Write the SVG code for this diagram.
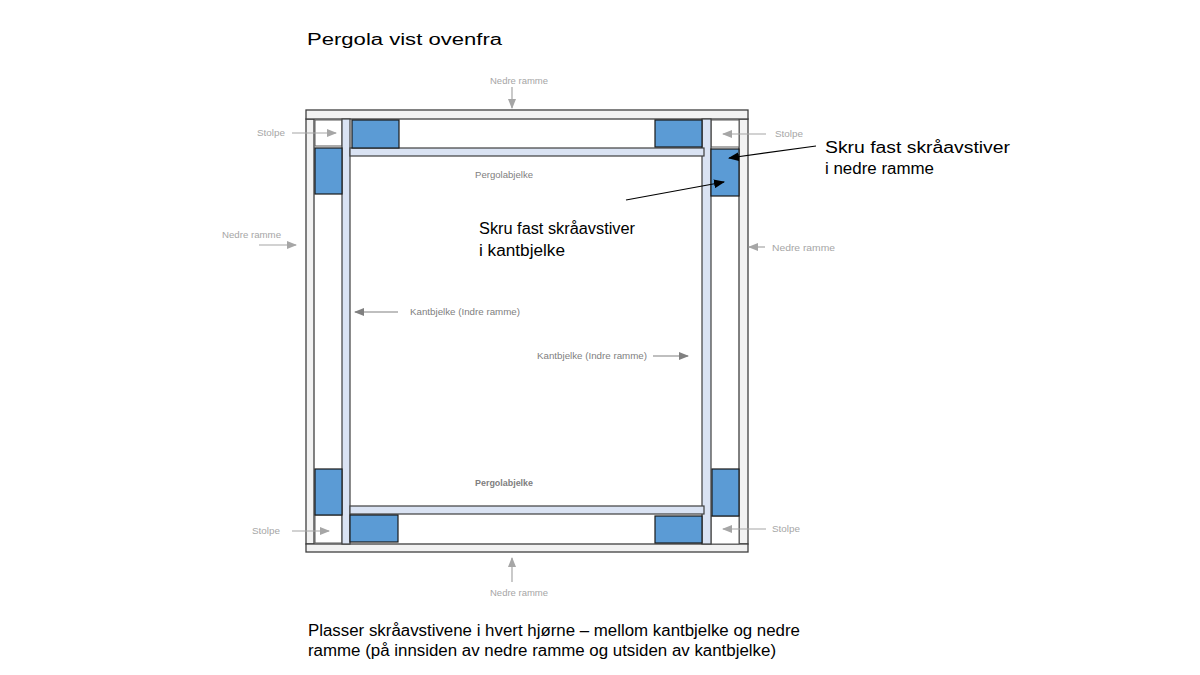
<svg xmlns="http://www.w3.org/2000/svg" width="1200" height="675" viewBox="0 0 1200 675">
<style>
.frame{fill:#f2f2f2;stroke:#3f3f3f;stroke-width:1.3}
.beam{fill:#dae3f3;stroke:#3f3f3f;stroke-width:1.2}
.post{fill:#ffffff;stroke:#595959;stroke-width:1}
.brace{fill:#5b9bd5;stroke:#1a1a1a;stroke-width:1.2}
.lbl{font-family:"Liberation Sans",Arial,sans-serif;font-size:9px;fill:#a6a6a6}
.lbl2{font-family:"Liberation Sans",Arial,sans-serif;font-size:9px;fill:#808080}
.main{font-family:"Liberation Sans",Arial,sans-serif;font-size:16px;fill:#000}
.ga{stroke:#a6a6a6;stroke-width:1.2;fill:none;marker-end:url(#gh)}
.da{stroke:#808080;stroke-width:1.2;fill:none;marker-end:url(#dh)}
.ba{stroke:#000;stroke-width:1.2;fill:none;marker-end:url(#bh)}
</style>
<defs>
<marker id="gh" markerWidth="10" markerHeight="8" refX="9" refY="4" orient="auto" markerUnits="userSpaceOnUse"><path d="M0,0 L10,4 L0,8 Z" fill="#a6a6a6"/></marker>
<marker id="dh" markerWidth="10" markerHeight="8" refX="9" refY="4" orient="auto" markerUnits="userSpaceOnUse"><path d="M0,0 L10,4 L0,8 Z" fill="#808080"/></marker>
<marker id="bh" markerWidth="11" markerHeight="9" refX="10" refY="4.5" orient="auto" markerUnits="userSpaceOnUse"><path d="M0,0 L11,4.5 L0,9 Z" fill="#000"/></marker>
</defs>
<rect width="1200" height="675" fill="#ffffff"/>

<text class="main" x="307" y="45" font-size="20" textLength="195" lengthAdjust="spacingAndGlyphs">Pergola vist ovenfra</text>

<g id="nedre-ramme">
<rect class="frame" x="306" y="119" width="8" height="425"/>
<rect class="frame" x="739" y="119" width="9" height="425"/>
<rect class="frame" x="306" y="110" width="442" height="9"/>
<rect class="frame" x="306" y="544" width="442" height="8"/>
</g>

<g id="stolper">
<rect class="post" x="315" y="120" width="27" height="26"/>
<rect class="post" x="711" y="120" width="28" height="27"/>
<rect class="post" x="315" y="515" width="27" height="28"/>
<rect class="post" x="711" y="516" width="28" height="28"/>
</g>

<g id="kantbjelker">
<rect class="beam" x="342" y="119" width="8" height="425"/>
<rect class="beam" x="702" y="119" width="9" height="425"/>
</g>

<g id="pergolabjelker">
<rect class="beam" x="350" y="148" width="354" height="8"/>
<rect class="beam" x="350" y="506" width="354" height="8"/>
</g>

<g id="skraavstivere">
<rect class="brace" x="315" y="148" width="27" height="46"/>
<rect class="brace" x="352" y="120" width="47" height="28"/>
<rect class="brace" x="655" y="120" width="47" height="27"/>
<rect class="brace" x="711" y="149" width="28" height="47"/>
<rect class="brace" x="315" y="469" width="27" height="46"/>
<rect class="brace" x="350" y="515" width="48" height="27"/>
<rect class="brace" x="655" y="516" width="47" height="27"/>
<rect class="brace" x="712" y="469" width="27" height="47"/>
</g>

<g id="connectors">
<line class="ga" x1="512" y1="87" x2="512" y2="108"/>
<line class="ga" x1="512" y1="582" x2="512" y2="558"/>
<line class="ga" x1="292" y1="133" x2="336" y2="133"/>
<line class="ga" x1="766" y1="134" x2="723" y2="134"/>
<line class="ga" x1="292" y1="531" x2="329" y2="531"/>
<line class="ga" x1="766" y1="529" x2="723" y2="529"/>
<line class="ga" x1="259" y1="245" x2="296" y2="245"/>
<line class="ga" x1="765" y1="247" x2="749" y2="247"/>
<line class="da" x1="398" y1="312" x2="355" y2="312"/>
<line class="da" x1="653" y1="356" x2="688" y2="356"/>
<line class="ba" x1="816" y1="146" x2="729" y2="158"/>
<line class="ba" x1="626" y1="200" x2="724" y2="182"/>
</g>

<g id="labels">
<text class="lbl" x="490" y="84" textLength="58" lengthAdjust="spacingAndGlyphs">Nedre ramme</text>
<text class="lbl" x="490" y="596" textLength="58" lengthAdjust="spacingAndGlyphs">Nedre ramme</text>
<text class="lbl" x="222" y="238" textLength="59" lengthAdjust="spacingAndGlyphs">Nedre ramme</text>
<text class="lbl" x="772" y="251" textLength="63" lengthAdjust="spacingAndGlyphs">Nedre ramme</text>
<text class="lbl" x="257" y="136" textLength="28" lengthAdjust="spacingAndGlyphs">Stolpe</text>
<text class="lbl" x="775" y="137" textLength="28" lengthAdjust="spacingAndGlyphs">Stolpe</text>
<text class="lbl" x="252" y="534" textLength="28" lengthAdjust="spacingAndGlyphs">Stolpe</text>
<text class="lbl" x="772" y="532" textLength="28" lengthAdjust="spacingAndGlyphs">Stolpe</text>
<text class="lbl2" x="475" y="178" textLength="58" lengthAdjust="spacingAndGlyphs">Pergolabjelke</text>
<text class="lbl2" x="475" y="486" font-weight="bold" textLength="58" lengthAdjust="spacingAndGlyphs">Pergolabjelke</text>
<text class="lbl2" x="410" y="315" textLength="110" lengthAdjust="spacingAndGlyphs">Kantbjelke (Indre ramme)</text>
<text class="lbl2" x="537" y="359" textLength="110" lengthAdjust="spacingAndGlyphs">Kantbjelke (Indre ramme)</text>
</g>

<g id="notes">
<text class="main" x="825" y="153" textLength="185" lengthAdjust="spacingAndGlyphs">Skru fast skråavstiver</text>
<text class="main" x="825" y="174" textLength="109" lengthAdjust="spacingAndGlyphs">i nedre ramme</text>
<text class="main" x="479" y="234" textLength="156" lengthAdjust="spacingAndGlyphs">Skru fast skråavstiver</text>
<text class="main" x="479" y="256" textLength="86" lengthAdjust="spacingAndGlyphs">i kantbjelke</text>
<text class="main" x="308" y="636" textLength="492" lengthAdjust="spacingAndGlyphs">Plasser skråavstivene i hvert hjørne – mellom kantbjelke og nedre</text>
<text class="main" x="308" y="656" textLength="468" lengthAdjust="spacingAndGlyphs">ramme (på innsiden av nedre ramme og utsiden av kantbjelke)</text>
</g>
</svg>
